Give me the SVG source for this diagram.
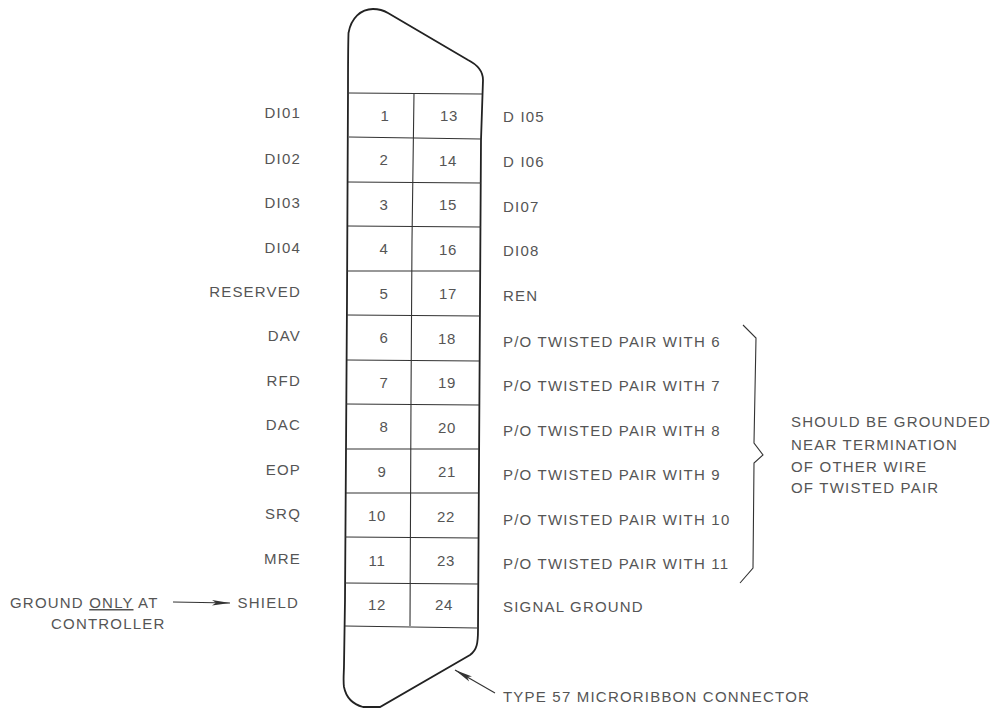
<svg xmlns="http://www.w3.org/2000/svg" width="1000" height="709" viewBox="0 0 1000 709">
<defs>
<marker id="ah" markerUnits="userSpaceOnUse" markerWidth="20" markerHeight="8" refX="18" refY="4" orient="auto"><path d="M0 1.2L18 4L0 6.8L4 4Z" fill="#333"/></marker>
</defs>
<style>
text{font-family:"Liberation Sans",Arial,sans-serif;font-size:15px;fill:#555;letter-spacing:1.2px}
.r{text-anchor:end}
.m{text-anchor:middle;letter-spacing:.6px}
.o{fill:none;stroke:#222;stroke-width:1.8}
.g{fill:none;stroke:#333;stroke-width:1.1}
</style>
<rect width="1000" height="709" fill="#fff"/>
<g id="connector-body">
<path class="o" d="M348 93C348 70 348 50 348.500 33C351 18 361 9 373 9C379 9 383 10 388 13L468 60C478 65 483 71 483 80L481 140L478 630C478 643 477 650 470 655L380 707L363 707C352 704 346 697 344 687C343 680 344 672 344 665L345 600L347 300L348 93Z"/>
<g id="grid">
<path class="g" d="M349 93L482 94M349 137L481 139M348 182L481 183M348 226L481 227M347 271L480 271M347 315L480 316M347 360L479 361M346 404L479 405M346 449L479 449M346 493L478 493M345 537L478 538M345 583L478 584M345 626L477 628M414 93L412 240L411 400L410 626"/>
</g>
</g>
<g id="pins">
<g id="pin-1"><text class="m" x="385" y="121">1</text><text class="m" x="449" y="121">13</text><text x="503" y="122">D I05</text><text class="r" x="301" y="118">DI01</text></g>
<g id="pin-2"><text class="m" x="384" y="165">2</text><text class="m" x="448" y="166">14</text><text x="503" y="167">D I06</text><text class="r" x="301" y="164">DI02</text></g>
<g id="pin-3"><text class="m" x="384" y="210">3</text><text class="m" x="448" y="210">15</text><text x="503" y="212">DI07</text><text class="r" x="301" y="208">DI03</text></g>
<g id="pin-4"><text class="m" x="384" y="254">4</text><text class="m" x="448" y="255">16</text><text x="503" y="256">DI08</text><text class="r" x="301" y="253">DI04</text></g>
<g id="pin-5"><text class="m" x="384" y="299">5</text><text class="m" x="448" y="299">17</text><text x="503" y="301">REN</text><text class="r" x="301" y="297">RESERVED</text></g>
<g id="pin-6"><text class="m" x="384" y="343">6</text><text class="m" x="447" y="344">18</text><text x="503" y="347">P/O TWISTED PAIR WITH 6</text><text class="r" x="301" y="341">DAV</text></g>
<g id="pin-7"><text class="m" x="384" y="388">7</text><text class="m" x="447" y="388">19</text><text x="503" y="391">P/O TWISTED PAIR WITH 7</text><text class="r" x="301" y="386">RFD</text></g>
<g id="pin-8"><text class="m" x="384" y="432">8</text><text class="m" x="447" y="433">20</text><text x="503" y="436">P/O TWISTED PAIR WITH 8</text><text class="r" x="301" y="430">DAC</text></g>
<g id="pin-9"><text class="m" x="382" y="477">9</text><text class="m" x="447" y="477">21</text><text x="503" y="480">P/O TWISTED PAIR WITH 9</text><text class="r" x="301" y="475">EOP</text></g>
<g id="pin-10"><text class="m" x="377" y="521">10</text><text class="m" x="446" y="522">22</text><text x="503" y="525">P/O TWISTED PAIR WITH 10</text><text class="r" x="301" y="519">SRQ</text></g>
<g id="pin-11"><text class="m" x="377" y="566">11</text><text class="m" x="446" y="566">23</text><text x="503" y="569">P/O TWISTED PAIR WITH 11</text><text class="r" x="301" y="564">MRE</text></g>
<g id="pin-12"><text class="m" x="377" y="610">12</text><text class="m" x="444" y="610">24</text><text x="503" y="612">SIGNAL GROUND</text><text class="r" x="299" y="608">SHIELD</text></g>
</g>
<g id="connectors">
<line class="g" x1="173" y1="602" x2="230" y2="603" marker-end="url(#ah)"/>
<line class="g" x1="495" y1="693" x2="455" y2="670" marker-end="url(#ah)"/>
<path class="g" d="M743 325L756 338L754 443L763 455L754 463L753 568L740 583"/>
</g>
<g id="ground-note"><text x="10" y="608">GROUND <tspan text-decoration="underline">ONLY</tspan> AT</text><text x="51" y="629">CONTROLLER</text></g>
<g id="twisted-note"><text x="791" y="427">SHOULD BE GROUNDED</text><text x="791" y="450">NEAR TERMINATION</text><text x="791" y="472">OF OTHER WIRE</text><text x="791" y="493">OF TWISTED PAIR</text></g>
<g id="connector-type"><text x="503" y="702">TYPE 57 MICRORIBBON CONNECTOR</text></g>
</svg>
